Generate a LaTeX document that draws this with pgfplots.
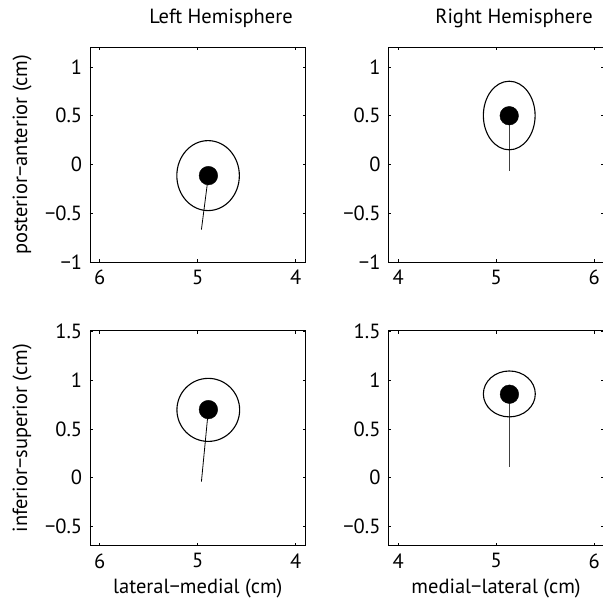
\documentclass[border=0pt]{standalone}
\usepackage{pgfplots}
\pgfplotsset{compat=1.18}
\usepackage{fontspec}
\setmainfont{PT Sans}
\begin{document}
\fontsize{20bp}{23bp}\selectfont
\begin{tikzpicture}[x=1bp,y=1bp]
\useasboundingbox (0bp,0bp) rectangle (603bp,605bp);
\pgfplotsset{
  every axis/.append style={
    scale only axis, width=215.6bp, height=215bp,
    xmin=3.9, xmax=6.1,
    xtick={4,5,6},
    tick align=inside, tick pos=both,
    major tick length=3bp,
    axis line style={line width=0.9bp},
    every tick/.style={black, line width=0.6bp},
    tick label style={font=\fontsize{20.5bp}{23bp}\selectfont},
    label style={font=\fontsize{20.5bp}{23bp}\selectfont},
    /pgf/number format/assume math mode=true,
    xticklabel style={yshift=-1bp},
    yticklabel style={xshift=-1bp},
    ylabel style={at={(axis description cs:-0.315,0.5)}, anchor=center},
    xlabel style={at={(axis description cs:0.5,-0.2)}, anchor=center},
    clip=false,
  },
  topy/.style={ymin=-1, ymax=1.2, ytick={-1,-0.5,0,0.5,1},
    yticklabels={−1,−0.5,0,0.5,1}},
  boty/.style={ymin=-0.7, ymax=1.51, ytick={-0.5,0,0.5,1,1.5},
    yticklabels={−0.5,0,0.5,1,1.5}},
}
% Top-left
\begin{axis}[at={(305.6bp,342.7bp)}, anchor=south east, x dir=reverse, topy,
  ylabel={posterior−anterior (cm)}]
\addplot[black, line width=0.8bp] coordinates {(4.892,-0.113) (4.963,-0.665)};
\draw[black, line width=1.1bp] (axis cs:4.895,-0.113) ellipse [x radius=0.319, y radius=0.358];
\addplot[only marks, mark=*, mark size=9.3bp, black] coordinates {(4.892,-0.113)};
\end{axis}
% Top-right
\begin{axis}[at={(388.3bp,342.7bp)}, anchor=south west, topy]
\addplot[black!75, line width=0.8bp] coordinates {(5.134,0.5) (5.134,-0.068)};
\draw[black, line width=1.1bp] (axis cs:5.134,0.502) ellipse [x radius=0.264, y radius=0.351];
\addplot[only marks, mark=*, mark size=9.3bp, black] coordinates {(5.134,0.5)};
\end{axis}
% Bottom-left
\begin{axis}[at={(305.6bp,59.3bp)}, anchor=south east, x dir=reverse, boty,
  ylabel={inferior−superior (cm)},
  xlabel={lateral−medial (cm)}]
\addplot[black, line width=0.8bp] coordinates {(4.892,0.699) (4.963,-0.041)};
\draw[black, line width=1.1bp] (axis cs:4.893,0.696) ellipse [x radius=0.32, y radius=0.324];
\addplot[only marks, mark=*, mark size=9.3bp, black] coordinates {(4.892,0.699)};
\end{axis}
% Bottom-right
\begin{axis}[at={(388.3bp,59.3bp)}, anchor=south west, boty,
  xlabel={medial−lateral (cm)}]
\addplot[black!75, line width=0.8bp] coordinates {(5.136,0.857) (5.136,0.113)};
\draw[black, line width=1.1bp] (axis cs:5.135,0.86) ellipse [x radius=0.265, y radius=0.236];
\addplot[only marks, mark=*, mark size=9.3bp, black] coordinates {(5.136,0.857)};
\end{axis}
\node[font=\fontsize{20.5bp}{23bp}\selectfont] at (221bp,587bp) {Left Hemisphere};
\node[font=\fontsize{20.5bp}{23bp}\selectfont] at (514bp,587bp) {Right Hemisphere};
\end{tikzpicture}
\end{document}
